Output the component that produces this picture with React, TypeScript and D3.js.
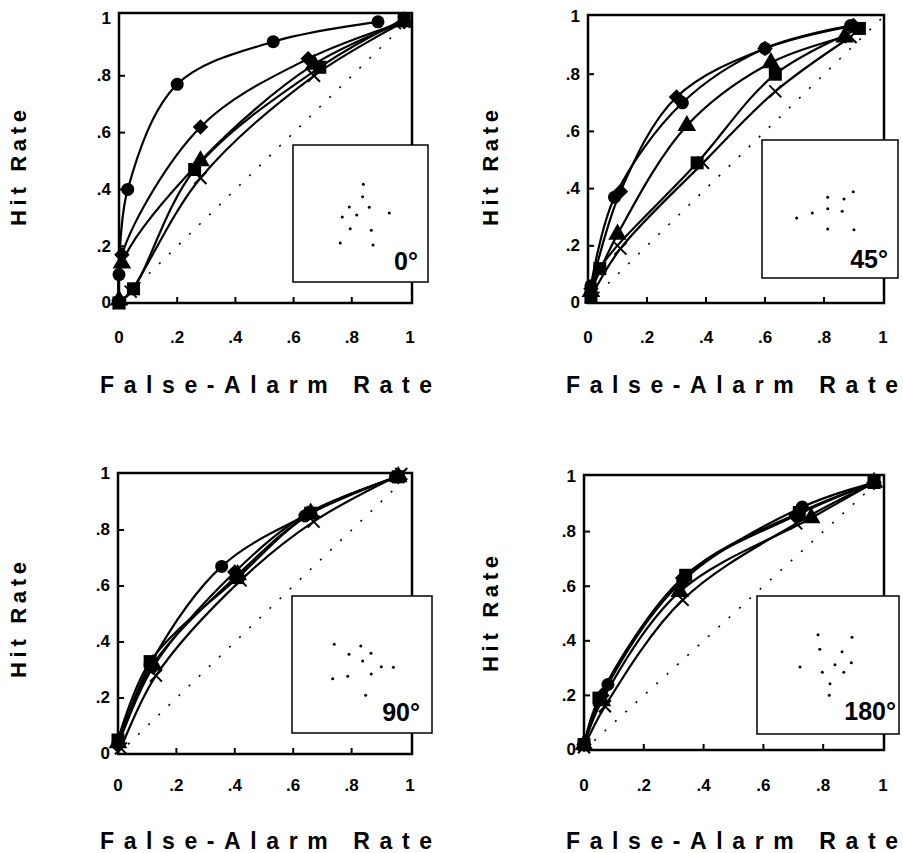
import React from "react";
import * as d3 from "d3";

// ---------- DATA ----------
const xTicks = [0, 0.2, 0.4, 0.6, 0.8, 1];
const xTickLabels = ["0", ".2", ".4", ".6", ".8", "1"];
const yTicks = [0, 0.2, 0.4, 0.6, 0.8, 1];
const yTickLabels = ["0", ".2", ".4", ".6", ".8", "1"];
const panelLabels = ["0°", "45°", "90°", "180°"];
const xTitle = "False-Alarm Rate";
const yTitle = "Hit Rate";
const seriesShapes = ["circle", "diamond", "triangle", "square", "cross"];

// [false-alarm rate, hit rate]
const d0Circle = [[0.0, 0.1], [0.03, 0.4], [0.2, 0.77], [0.53, 0.92], [0.89, 0.99]];
const d0Diamond = [[0.0, 0.01], [0.01, 0.17], [0.28, 0.62], [0.65, 0.86], [0.98, 0.99]];
const d0Triangle = [[0.0, 0.01], [0.01, 0.14], [0.28, 0.5], [0.67, 0.84], [0.98, 0.99]];
const d0Square = [[0.0, 0.0], [0.05, 0.05], [0.26, 0.47], [0.69, 0.83], [0.98, 1.0]];
const d0Cross = [[0.0, 0.0], [0.04, 0.04], [0.28, 0.44], [0.67, 0.8], [0.98, 0.99]];

const d45Circle = [[0.01, 0.06], [0.09, 0.37], [0.32, 0.7], [0.6, 0.89], [0.89, 0.97]];
const d45Diamond = [[0.01, 0.05], [0.11, 0.39], [0.3, 0.72], [0.6, 0.89], [0.9, 0.97]];
const d45Triangle = [[0.01, 0.04], [0.1, 0.24], [0.335, 0.62], [0.62, 0.84], [0.87, 0.93]];
const d45Square = [[0.01, 0.02], [0.04, 0.12], [0.37, 0.49], [0.635, 0.8], [0.92, 0.96]];
const d45Cross = [[0.01, 0.02], [0.11, 0.19], [0.39, 0.49], [0.635, 0.74], [0.89, 0.93]];

const d90Circle = [[0.0, 0.04], [0.11, 0.32], [0.355, 0.67], [0.64, 0.85], [0.95, 0.99]];
const d90Diamond = [[0.0, 0.03], [0.12, 0.31], [0.4, 0.65], [0.65, 0.86], [0.96, 0.99]];
const d90Triangle = [[0.0, 0.04], [0.12, 0.32], [0.41, 0.64], [0.66, 0.86], [0.96, 0.99]];
const d90Square = [[0.0, 0.05], [0.11, 0.33], [0.41, 0.63], [0.66, 0.86], [0.96, 0.99]];
const d90Cross = [[0.01, 0.02], [0.13, 0.28], [0.42, 0.62], [0.67, 0.83], [0.97, 1.0]];

const d180Circle = [[0.0, 0.02], [0.08, 0.24], [0.33, 0.62], [0.73, 0.89], [0.97, 0.98]];
const d180Diamond = [[0.0, 0.02], [0.06, 0.2], [0.33, 0.63], [0.71, 0.86], [0.97, 0.98]];
const d180Triangle = [[0.0, 0.02], [0.06, 0.18], [0.32, 0.58], [0.76, 0.85], [0.97, 0.98]];
const d180Square = [[0.0, 0.02], [0.05, 0.19], [0.34, 0.64], [0.72, 0.87], [0.97, 0.98]];
const d180Cross = [[0.0, 0.01], [0.07, 0.16], [0.33, 0.55], [0.71, 0.83], [0.97, 0.98]];

// stimulus dot patterns inside the insets (fractions of the inset box)
const inset0Dots = [[0.521, 0.287], [0.516, 0.377], [0.417, 0.453], [0.565, 0.455], [0.713, 0.496], [0.365, 0.526], [0.472, 0.511], [0.424, 0.611], [0.58, 0.623], [0.35, 0.715], [0.593, 0.73]];
const inset45Dots = [[0.483, 0.415], [0.603, 0.428], [0.671, 0.375], [0.483, 0.498], [0.37, 0.529], [0.59, 0.517], [0.255, 0.565], [0.483, 0.645], [0.676, 0.65]];
const inset90Dots = [[0.302, 0.353], [0.491, 0.365], [0.564, 0.418], [0.407, 0.426], [0.505, 0.474], [0.638, 0.516], [0.724, 0.52], [0.566, 0.569], [0.398, 0.586], [0.291, 0.604], [0.526, 0.725]];
const inset180Dots = [[0.43, 0.28], [0.669, 0.299], [0.442, 0.386], [0.599, 0.404], [0.549, 0.498], [0.664, 0.483], [0.303, 0.514], [0.46, 0.553], [0.611, 0.553], [0.514, 0.636], [0.509, 0.72]];

const panelSeries = [
  [d0Circle, d0Diamond, d0Triangle, d0Square, d0Cross],
  [d45Circle, d45Diamond, d45Triangle, d45Square, d45Cross],
  [d90Circle, d90Diamond, d90Triangle, d90Square, d90Cross],
  [d180Circle, d180Diamond, d180Triangle, d180Square, d180Cross],
];
const panelDots = [inset0Dots, inset45Dots, inset90Dots, inset180Dots];

// ---------- LAYOUT ----------
const layouts = [
  { x0: 119, x1: 410, y0: 303, y1: 19, fTop: 13, fRight: 412, inset: [293, 145, 428, 282], lx: 418, ly: 270, titleX: 100, titleY: 393, tickDy: 36, ytx: 26, yty: 226 },
  { x0: 588, x1: 883, y0: 303, y1: 17, fTop: 15, fRight: 884, inset: [762, 140, 898, 278], lx: 888, ly: 268, titleX: 566, titleY: 393, tickDy: 36, ytx: 498, yty: 226 },
  { x0: 118, x1: 410, y0: 754, y1: 474, fTop: 473, fRight: 412, inset: [292, 596, 432, 733], lx: 420, ly: 721, titleX: 100, titleY: 849, tickDy: 33, ytx: 26, yty: 678 },
  { x0: 584, x1: 883, y0: 750, y1: 477, fTop: 475, fRight: 884, inset: [757, 596, 899, 734], lx: 896, ly: 720, titleX: 566, titleY: 849, tickDy: 37, ytx: 498, yty: 672 },
];

const FONT = "'Liberation Sans', Arial, Helvetica, sans-serif";

function Marker({ shape, x, y }: { shape: string; x: number; y: number }) {
  if (shape === "circle") return <circle cx={x} cy={y} r={6.5} fill="#000" />;
  if (shape === "square") return <rect x={x - 6.5} y={y - 6.5} width={13} height={13} fill="#000" />;
  if (shape === "diamond")
    return <rect x={x - 5.5} y={y - 5.5} width={11} height={11} fill="#000" transform={`rotate(45 ${x} ${y})`} />;
  if (shape === "triangle") {
    const p = d3.symbol().type(d3.symbolTriangle).size(150)();
    return <path d={p || ""} transform={`translate(${x},${y})`} fill="#000" />;
  }
  // cross (X)
  const s = 6;
  return (
    <g stroke="#000" strokeWidth={2}>
      <line x1={x - s} y1={y - s} x2={x + s} y2={y + s} />
      <line x1={x - s} y1={y + s} x2={x + s} y2={y - s} />
    </g>
  );
}

function Panel({ idx }: { idx: number }) {
  const L = layouts[idx];
  const xs = d3.scaleLinear().domain([0, 1]).range([L.x0, L.x1]);
  const ys = d3.scaleLinear().domain([0, 1]).range([L.y0, L.y1]);
  const line = d3
    .line<number[]>()
    .x((d) => xs(d[0]))
    .y((d) => ys(d[1]))
    .curve(d3.curveCatmullRom.alpha(0.5));
  const series = panelSeries[idx];
  const [ix0, iy0, ix1, iy1] = L.inset;
  const ixs = d3.scaleLinear().domain([0, 1]).range([ix0, ix1]);
  const iys = d3.scaleLinear().domain([0, 1]).range([iy0, iy1]);
  return (
    <g>
      {/* chance diagonal */}
      <line x1={xs(0)} y1={ys(0)} x2={xs(1)} y2={ys(1)} stroke="#000" strokeWidth={1.6} strokeDasharray="2 12" />
      {/* ROC curves */}
      {series.map((s, i) => (
        <path key={"l" + i} d={line(s) || ""} fill="none" stroke="#000" strokeWidth={2.2} />
      ))}
      {series.map((s, i) =>
        s.map((p, j) => <Marker key={"m" + i + "-" + j} shape={seriesShapes[i]} x={xs(p[0])} y={ys(p[1])} />)
      )}
      {/* frame */}
      <rect x={L.x0} y={L.fTop} width={L.fRight - L.x0} height={L.y0 - L.fTop} fill="none" stroke="#000" strokeWidth={2.5} />
      {/* inward ticks */}
      {xTicks.slice(1, -1).map((t, i) => (
        <line key={"xt" + i} x1={xs(t)} x2={xs(t)} y1={L.y0} y2={L.y0 - 6} stroke="#000" strokeWidth={2} />
      ))}
      {yTicks.slice(1, -1).map((t, i) => (
        <line key={"yt" + i} x1={L.x0} x2={L.x0 + 6} y1={ys(t)} y2={ys(t)} stroke="#000" strokeWidth={2} />
      ))}
      {/* tick labels */}
      {xTicks.map((t, i) => (
        <text key={"xl" + i} x={xs(t)} y={L.y0 + L.tickDy} textAnchor="middle" dominantBaseline="middle" fontFamily={FONT} fontWeight="bold" fontSize={17}>
          {xTickLabels[i]}
        </text>
      ))}
      {yTicks.map((t, i) => (
        <text key={"yl" + i} x={L.x0 - 8} y={ys(t) + 1} textAnchor="end" dominantBaseline="middle" fontFamily={FONT} fontWeight="bold" fontSize={17}>
          {yTickLabels[i]}
        </text>
      ))}
      {/* axis titles */}
      <text x={L.titleX} y={L.titleY} textAnchor="start" fontFamily={FONT} fontWeight="bold" fontSize={23} textLength={332} lengthAdjust="spacing">
        {xTitle}
      </text>
      <text
        x={0}
        y={0}
        transform={`translate(${L.ytx},${L.yty}) rotate(-90)`}
        textAnchor="start"
        fontFamily={FONT}
        fontWeight="bold"
        fontSize={22}
        textLength={116}
        lengthAdjust="spacing"
      >
        {yTitle}
      </text>
      {/* inset with stimulus pattern */}
      <rect x={ix0} y={iy0} width={ix1 - ix0} height={iy1 - iy0} fill="#fff" stroke="#000" strokeWidth={1.5} />
      {panelDots[idx].map((p, i) => (
        <circle key={"d" + i} cx={ixs(p[0])} cy={iys(p[1])} r={1.5} fill="#000" />
      ))}
      <text x={L.lx} y={L.ly} textAnchor="end" fontFamily={FONT} fontWeight="bold" fontSize={25}>
        {panelLabels[idx]}
      </text>
    </g>
  );
}

export default function App() {
  return (
    <svg width={903} height={853} style={{ position: "absolute", left: 0, top: 0, background: "#fff" }}>
      <rect x={0} y={0} width={903} height={853} fill="#fff" />
      {[0, 1, 2, 3].map((i) => (
        <Panel key={i} idx={i} />
      ))}
    </svg>
  );
}
